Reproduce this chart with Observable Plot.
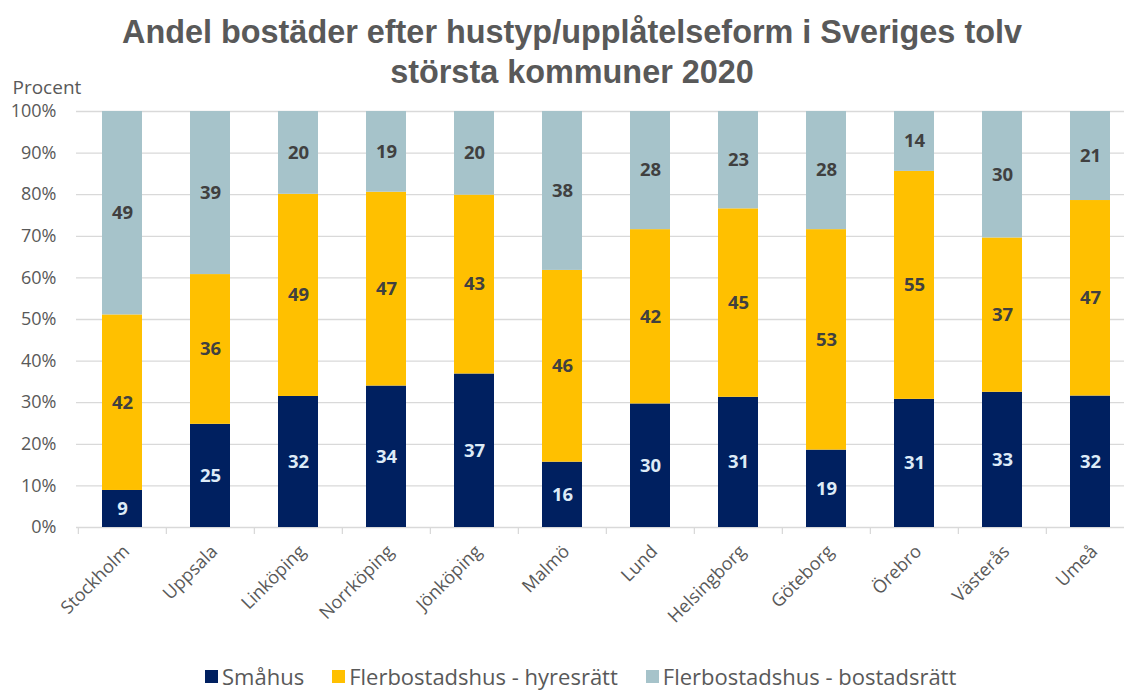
<!DOCTYPE html>
<html>
<head>
<meta charset="utf-8">
<script src="https://cdn.jsdelivr.net/npm/d3@7"></script>
<script src="https://cdn.jsdelivr.net/npm/@observablehq/plot@0.6"></script>
<style>
  body { margin: 0; background: #fff; }
  #wrap { position: relative; width: 1124px; height: 690px; overflow: hidden; font-family: "Open Sans", sans-serif; }
  #title { position: absolute; left: 10px; top: 0; width: 1124px; text-align: center; margin: 0; padding-top: 12px;
           font: 700 32.4px "Liberation Sans", Arial, sans-serif; line-height: 40px; color: #595959; z-index: 2; }
  #chart { position: absolute; left: 0; top: 80px; z-index: 1; }
  #legend { position: absolute; left: 205px; top: 662px; display: flex; align-items: center; white-space: nowrap;
            font-size: 22px; line-height: 28px; color: #595959; z-index: 2; }
  .item { display: flex; align-items: center; margin-right: 28px; }
  .sw { width: 13px; height: 13px; margin-right: 4px; display: inline-block; }
</style>
</head>
<body>
<div id="wrap">
  <h1 id="title">Andel bostäder efter hustyp/upplåtelseform i Sveriges tolv<br>största kommuner 2020</h1>
  <div id="chart"></div>
  <div id="legend"></div>
</div>
<script>
const cities = ["Stockholm", "Uppsala", "Linköping", "Norrköping", "Jönköping", "Malmö", "Lund", "Helsingborg", "Göteborg", "Örebro", "Västerås", "Umeå"];
const types = ["Småhus", "Flerbostadshus - hyresrätt", "Flerbostadshus - bostadsrätt"];
const smahus      = [8.9, 24.8, 31.5, 34.0, 36.9, 15.7, 29.7, 31.3, 18.6, 30.8, 32.5, 31.6];
const hyresratt   = [42.2, 36.0, 48.6, 46.6, 43.0, 46.1, 41.9, 45.3, 53.0, 54.8, 37.1, 47.0];
const bostadsratt = [48.9, 39.2, 19.9, 19.4, 20.1, 38.2, 28.4, 23.4, 28.4, 14.4, 30.4, 21.4];
const colors = ["#002060", "#FFC000", "#A6C3CA"];
const labelColors = ["#DDEBF7", "#404040", "#404040"];
const yTicks = [0, 10, 20, 30, 40, 50, 60, 70, 80, 90, 100];

const series = [smahus, hyresratt, bostadsratt];
const data = [];
types.forEach((t, j) => cities.forEach((c, i) => data.push({city: c, type: t, value: series[j][i]})));

const xRange = [76, 1135];
const step = (xRange[1] - xRange[0]) / cities.length;
const stackOpts = {x: "city", y: "value", z: "type", order: types};
const fmt = d3.format(".0f");

const labelMarks = types.map((t, j) => Plot.text(data, Plot.stackY({
  ...stackOpts,
  text: d => d.type === t ? fmt(d.value) : "",
  fill: labelColors[j], fontWeight: "bold", fontSize: 18.5
})));

const plot = Plot.plot({
  width: 1124,
  height: 570,
  marginLeft: 76,
  marginRight: 0,
  marginTop: 31,
  marginBottom: 123,
  style: {background: "none", fontFamily: "'Open Sans', sans-serif", color: "#595959", overflow: "visible"},
  x: {domain: cities, range: xRange, paddingInner: 0.55, paddingOuter: 0.275},
  y: {domain: [0, 100]},
  color: {domain: types, range: colors},
  marks: [
    Plot.ruleY(yTicks, {y: d => d, stroke: "#d9d9d9", strokeWidth: 1.3}),
    Plot.ruleX(cities, {x: d => d, dx: -step / 2, y1: 0, y2: 0, insetBottom: -7, stroke: "#d9d9d9", strokeWidth: 1.3}),
    Plot.barY(data, Plot.stackY({...stackOpts, fill: "type"})),
    ...labelMarks,
    Plot.axisY({ticks: yTicks, tickFormat: d => d + "%", tickSize: 0, tickPadding: 20, fontSize: 18, label: null}),
    Plot.axisX({tickRotate: -45, tickSize: 0, tickPadding: 21, dx: 4, fontSize: 18, label: null}),
    Plot.text(["Procent"], {frameAnchor: "top-left", text: d => d, dx: -64, dy: -31, textAnchor: "start", lineAnchor: "top", fontSize: 19})
  ]
});
document.getElementById("chart").appendChild(plot);

const legend = document.getElementById("legend");
types.forEach((t, j) => {
  const item = document.createElement("div");
  item.className = "item";
  const sw = document.createElement("span");
  sw.className = "sw";
  sw.style.background = colors[j];
  const lab = document.createElement("span");
  lab.textContent = t;
  item.appendChild(sw);
  item.appendChild(lab);
  legend.appendChild(item);
});
</script>
</body>
</html>
